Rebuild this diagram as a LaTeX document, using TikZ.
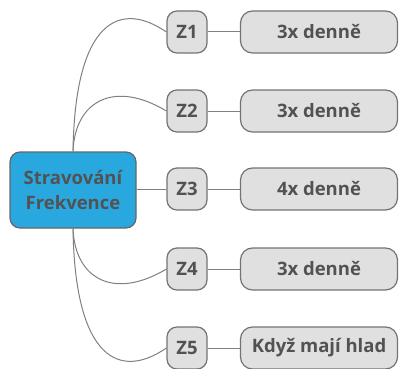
\documentclass[tikz,border=0pt]{standalone}
\usepackage{fontspec}
\setmainfont{Open Sans}
\begin{document}
\begin{tikzpicture}[x=1pt,y=-1pt,
  txt/.style={text=black!68, font=\bfseries\fontsize{18.5}{22}\selectfont},
  rootbox/.style={txt, draw=black!60, line width=1.2pt, fill=rootblue, rounded corners=10pt, minimum width=126pt, minimum height=76pt, align=center, inner sep=0pt},
  zbox/.style={txt, draw=black!55, line width=1.2pt, fill=black!12, rounded corners=10pt, minimum width=40pt, minimum height=42pt, inner sep=0pt},
  vbox/.style={txt, draw=black!55, line width=1.2pt, fill=black!12, rounded corners=12pt, minimum width=157pt, minimum height=42pt, inner sep=0pt},
  link/.style={draw=black!50, line width=1pt}]
\definecolor{rootblue}{HTML}{29A8E0}
\useasboundingbox (0,0) rectangle (399,369);
\node[rootbox] (root) at (73,190) {Stravování\\[3pt]Frekvence};
\node[zbox] (z1) at (187,32) {Z1};
\node[zbox] (z2) at (187,111) {Z2};
\node[zbox] (z3) at (187,189) {Z3};
\node[zbox] (z4) at (187,269) {Z4};
\node[zbox] (z5) at (187,348) {Z5};
\node[vbox] (v1) at (319,32) {3x denně};
\node[vbox] (v2) at (319,111) {3x denně};
\node[vbox] (v3) at (319,189) {4x denně};
\node[vbox] (v4) at (319,269) {3x denně};
\node[vbox] (v5) at (319,348) {Když mají hlad};
\foreach \i in {1,...,5} {\draw[link] (z\i.east) -- (v\i.west);}
\draw[link] (root.north) .. controls (75,20) and (120,0) .. (z1.west);
\draw[link] (root.north) .. controls (75,100) and (115,80) .. (z2.west);
\draw[link] (root.east |- z3.west) -- (z3.west);
\draw[link] (root.south) .. controls (75,280) and (115,300) .. (z4.west);
\draw[link] (root.south) .. controls (75,360) and (120,380) .. (z5.west);
\end{tikzpicture}
\end{document}
